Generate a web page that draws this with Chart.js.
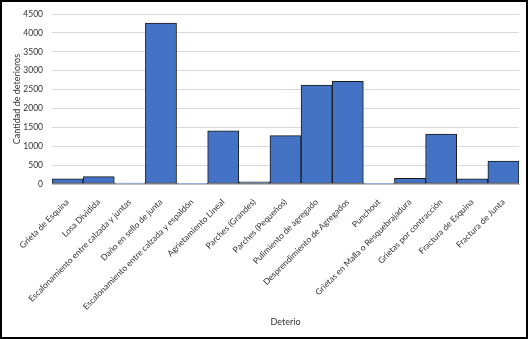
<!DOCTYPE html>
<html>
<head>
<meta charset="utf-8">
<script src="https://cdn.jsdelivr.net/npm/chart.js@4/dist/chart.umd.min.js"></script>
<style>
html,body{margin:0;padding:0;background:#fff;}
#wrap{width:528px;height:339px;position:relative;}
</style>
</head>
<body>
<div id="wrap"><canvas id="c" width="528" height="339"></canvas></div>
<script>
const categories = [
  "Grieta de Esquina",
  "Losa Dividida",
  "Escalonamiento entre calzada y juntas",
  "Daño en sello de junta",
  "Escalonamiento entre calzada y espaldón",
  "Agrietamiento Lineal",
  "Parches (Grandes)",
  "Parches (Pequeños)",
  "Pulimiento de agregado",
  "Desprendimiento de Agregados",
  "Punchout",
  "Grietas en Malla o Resquebrajadura",
  "Grietas por contracción",
  "Fractura de Esquina",
  "Fractura de Junta"
];
const cantidad = [135, 195, 25, 4260, 4, 1410, 55, 1280, 2620, 2720, 20, 150, 1320, 140, 605];
const yTicks = [0, 500, 1000, 1500, 2000, 2500, 3000, 3500, 4000, 4500];
const yTitle = "Cantidad de deterioros";
const xTitle = "Deterio";

const frame = {
  id: 'frame',
  afterDraw(chart) {
    const ctx = chart.ctx;
    ctx.save();
    ctx.strokeStyle = '#000';
    ctx.lineWidth = 2;
    ctx.strokeRect(1, 1, chart.width - 2, chart.height - 2);
    ctx.restore();
  }
};

new Chart(document.getElementById('c'), {
  type: 'bar',
  data: {
    labels: categories,
    datasets: [{
      data: cantidad,
      backgroundColor: '#4472C4',
      borderColor: '#1a1a1a',
      borderWidth: 1,
      borderSkipped: false,
      categoryPercentage: 1.0,
      barPercentage: 1.0
    }]
  },
  options: {
    responsive: false,
    animation: false,
    layout: { padding: { left: 8, right: 9, top: 0, bottom: 8 } },
    plugins: { legend: { display: false }, tooltip: { enabled: false } },
    scales: {
      x: {
        grid: { display: false },
        border: { display: true, color: '#BFBFBF' },
        ticks: {
          color: '#333333',
          font: { family: 'Lato', size: 8.5 },
          minRotation: 45, maxRotation: 45,
          autoSkip: false,
          padding: 5
        },
        title: {
          display: true, text: xTitle, color: '#333333',
          font: { family: 'Lato', size: 9 },
          padding: { top: 4, bottom: 4 }
        },
        afterFit(scale) { scale.height = 147; }
      },
      y: {
        min: 0, max: 4500,
        afterBuildTicks(scale) { scale.ticks = yTicks.map(v => ({ value: v })); },
        grid: { color: '#D9D9D9', drawTicks: false },
        border: { display: false },
        ticks: {
          color: '#333333',
          font: { family: 'Lato', size: 8.5 },
          padding: 9,
          callback: (v) => String(v)
        },
        title: {
          display: true, text: yTitle, color: '#333333',
          font: { family: 'Lato', size: 9 },
          padding: { top: 4, bottom: 4 }
        },
        afterFit(scale) { scale.width = 44; }
      }
    }
  },
  plugins: [frame]
});
</script>
</body>
</html>
